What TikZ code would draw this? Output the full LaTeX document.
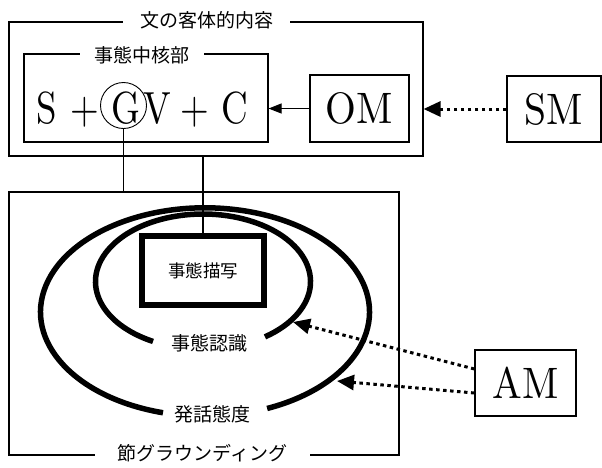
\documentclass[tikz,border=0pt]{standalone}
\usepackage{fontspec}
\usepackage{graphicx}
\newfontfamily\jp{Noto Sans CJK JP}
\newfontfamily\bigrm{lmroman10-regular.otf}
\usetikzlibrary{arrows.meta}
\newcommand{\condA}[1]{\scalebox{0.82}[1]{#1}}
\newcommand{\condB}[1]{\scalebox{0.9}[1]{#1}}
\begin{document}
\begin{tikzpicture}[x=1pt,y=1pt,yscale=-1,
  thinbox/.style={draw, line width=1.1pt, inner sep=0pt},
  titlelab/.style={fill=white, inner sep=0pt, minimum height=22pt, font=\jp\fontsize{19}{19}\selectfont},
  bigtxt/.style={font=\bigrm\fontsize{45}{45}\selectfont, inner sep=0pt, anchor=base},
  mtxt/.style={font=\bigrm\fontsize{44}{44}\selectfont},
  ring/.style={line width=5.5pt},
  dotarrow/.style={line width=3pt, dash pattern=on 3.5pt off 3.5pt, -{Triangle[length=17pt,width=15pt]}},
  jplabel/.style={font=\jp\fontsize{19}{19}\selectfont, inner sep=1pt}]
\useasboundingbox (0,0) rectangle (602,467);

% upper part
\node[thinbox, minimum width=414pt, minimum height=134pt] (obj) at (216,89) {};
\node[titlelab, minimum width=167pt] (objt) at (206.5,20) {文の客体的内容};
\node[thinbox, minimum width=244pt, minimum height=88pt] (core) at (146,98) {};
\node[titlelab, minimum width=124pt] (coret) at (142,55) {事態中核部};

\node[bigtxt] (s) at (46.5,123) {\condA{S}};
\node[bigtxt] (p1) at (84.5,123) {\condA{+}};
\node[bigtxt] (g) at (126,123) {\condA{G}};
\node[bigtxt] (v) at (157,123) {\condA{V}};
\node[bigtxt] (p2) at (195,123) {\condA{+}};
\node[bigtxt] (c) at (235,123) {\condA{C}};
\node[circle, draw, line width=0.9pt, minimum size=46pt, inner sep=0pt] (gc) at (123.5,105.5) {};

\node[thinbox, mtxt, minimum width=99pt, minimum height=67pt] (om) at (359.5,108.5) {\condB{OM}};
\node[thinbox, mtxt, minimum width=94pt, minimum height=66pt] (sm) at (554,109) {\condB{SM}};
\node[thinbox, mtxt, minimum width=101pt, minimum height=66pt] (am) at (525.5,383) {\condB{AM}};

\draw[line width=1.1pt, -{Triangle[length=13pt,width=10pt]}] (om.west) -- (om.west -| core.east);
\draw[dotarrow] (sm.west) -- (sm.west -| obj.east);

% lower part
\node[thinbox, minimum width=390pt, minimum height=263pt] (gr) at (204,323.5) {};
\node[titlelab, minimum width=215pt] (grt) at (202.5,453) {節グラウンディング};

\draw[ring] (205,312) ++(104.8:164.5 and 104.2) arc[start angle=104.8, end angle=427.8, x radius=164.5, y radius=104.2];
\draw[ring] (203,281.6) ++(117.7:107.5 and 67.6) arc[start angle=117.7, end angle=414.8, x radius=107.5, y radius=67.6];

\node[draw, line width=6pt, minimum width=122pt, minimum height=69pt, inner sep=0pt, font=\jp\fontsize{17.5}{17.5}\selectfont] (desc) at (203,270.5) {事態描写};
\node[jplabel] (cog) at (209.5,343.5) {事態認識};
\node[jplabel] (att) at (212.5,414) {発話態度};

\draw[line width=1.1pt] (gc.south) -- (gc.south |- gr.north);
\draw[line width=1.1pt] (obj.south -| desc.north) -- (desc.north);

\coordinate (t1) at (293,322);
\coordinate (t2) at (337,381);
\coordinate (a1) at (475,369);
\coordinate (a2) at (475,393);
\draw[dotarrow] (am.west |- a1) -- (t1);
\draw[dotarrow] (am.west |- a2) -- (t2);
\end{tikzpicture}
\end{document}
